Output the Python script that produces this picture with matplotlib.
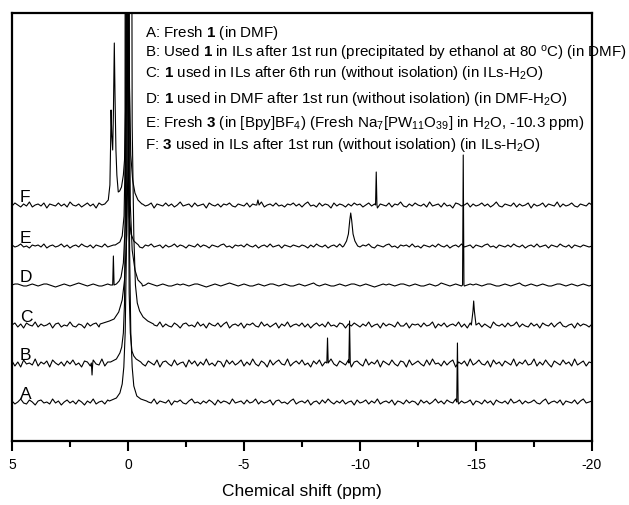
import numpy as np
import matplotlib
matplotlib.use("Agg")
import matplotlib.pyplot as plt
from matplotlib.ticker import MultipleLocator

plt.rcParams['font.family'] = ['Liberation Sans', 'DejaVu Sans']
plt.rcParams['mathtext.fontset'] = 'custom'
plt.rcParams['mathtext.rm'] = 'Liberation Sans'
plt.rcParams['mathtext.bf'] = 'Liberation Sans:bold'
plt.rcParams['mathtext.it'] = 'Liberation Sans:italic'
plt.rcParams['axes.unicode_minus'] = False

# ---------------- data (y in pixel-like units above each trace baseline) ----------------
labels = ["A", "B", "C", "D", "E", "F"]
offsets = [0, 39, 77, 117, 156, 197]

legend_lines = [
    r"A: Fresh $\mathbf{1}$ (in DMF)",
    r"B: Used $\mathbf{1}$ in ILs after 1st run (precipitated by ethanol at 80 $^{\mathrm{o}}$C) (in DMF)",
    r"C: $\mathbf{1}$ used in ILs after 6th run (without isolation) (in ILs-H$_{2}$O)",
    r"D: $\mathbf{1}$ used in DMF after 1st run (without isolation) (in DMF-H$_{2}$O)",
    r"E: Fresh $\mathbf{3}$ (in [Bpy]BF$_{4}$) (Fresh Na$_{7}$[PW$_{11}$O$_{39}$] in H$_{2}$O, -10.3 ppm)",
    r"F: $\mathbf{3}$ used in ILs after 1st run (without isolation) (in ILs-H$_{2}$O)",
]

# baseline wiggle estimates along 5 ... -20 ppm
A_noise = [1,-2,0,3,-1,-2,2,0,-3,1,2,-1,0,-2,3,-1,1,-3,0,2,
           -1,1,-2,2,0,-3,1,-1,3,-2,0,1,-2,2,-1,0,3,-2,1,-1,
           0,-2,2,-1,1,-3,2,0,-1,3,-2,1,0,-1,2,-3,1,0,2,-1,
           -2,1,3,-1,0,-2,1,-1,2,0,-3,2,-1,1,0,-2,3,-1,0,1,
           -2,2,-1,0,3,-2,1,-1,0,2,-3,1,2,-1,0,-2,1,3,-2,0,
           1,-1,2,-3,0,1,-2,2,-1,3,0,-2,1,-1,2,-2,0,1,-3,2,
           -1,0,2,-2,1,-1,3,-2,0,1,-1,2,-3,1,0,-2,2,-1,1,0,
           -3,2,-1,1,-2,0,3,-1,1,-2,2,0,-1,3,-2,1,-1,0,2,-3,
           1,0,-2,2,-1,1,-3,2,0,-1,1,-2,3,-1,0,2,-2,1,-1,0,
           2,-1,-2,1,3,-2,0,1,-1,2,-3,1,0,-1,2,-2,1,3,-1,0,
           1]
B_noise = [2,-3,1,-4,3,-1,0,-2,4,-3,1,-1,2,-4,3,0,-2,1,-3,2,
           -1,3,-2,0,-4,2,1,-3,3,-1,-2,4,-3,1,0,-2,3,-4,2,-1,
           1,-3,2,-2,4,-1,-3,2,0,-2,3,-4,1,2,-1,-3,3,-2,0,1,
           -4,3,-1,2,-3,1,-2,4,-2,0,-3,2,1,-4,3,-1,2,-2,0,3,
           -3,1,-2,4,-1,-3,2,0,-4,3,-2,1,3,-1,-2,4,-3,0,2,-1,
           3,-2,0,-4,2,-1,3,-3,1,-2,4,-1,-3,2,0,-2,3,-4,1,2,
           -1,-3,4,-2,1,-1,3,-4,2,0,-2,3,-1,-3,2,1,-4,3,-2,0,
           2,-1,-3,3,-2,4,-1,0,-3,2,-2,1,3,-4,1,-1,2,-3,4,-2,
           0,3,-1,-2,2,-4,3,-1,1,-3,2,0,-2,4,-3,1,-1,3,-2,-1,
           4,-3,1,-2,3,-1,-4,2,0,-2,3,-1,1,-3,4,-2,0,2,-3,1,
           0]
C_noise = [0,2,-2,1,-3,2,0,-1,3,-2,1,-1,0,2,-3,1,2,-2,0,-1,
           3,-1,-2,1,0,-3,2,-1,1,2,-2,0,-3,3,-1,1,-2,0,2,-1,
           -2,3,-1,0,1,-3,2,-2,1,0,-1,3,-2,1,-1,-2,2,0,-3,1,
           2,-1,0,-2,3,-1,1,-3,2,0,-1,2,-2,1,3,-3,0,1,-1,2,
           -3,1,0,2,-1,-2,3,-1,1,-2,0,2,-3,1,-1,3,-2,0,1,-1,
           2,-2,1,-3,0,2,-1,1,-2,3,-1,0,-2,2,1,-3,1,-1,2,0,
           -2,1,-1,3,-2,0,1,-3,2,-1,1,0,-2,3,-1,-1,2,-3,1,0,
           1,-2,2,-1,0,3,-3,1,-1,2,-2,0,1,-1,3,-2,1,-3,2,-1,
           0,2,-2,1,-1,-3,3,0,-1,1,-2,2,-1,0,3,-2,1,-1,-2,2,
           -1,1,-3,2,0,-1,2,-2,1,3,-1,-2,0,1,-3,2,-1,1,0,-2,
           1]
D_noise = [0,1,1,0,-1,-1,0,1,0,-1,0,1,1,0,-1,-2,-1,0,1,0,
           -1,0,1,2,1,0,-1,0,1,0,-1,-1,0,1,0,-1,0,1,1,0,
           -1,-1,0,1,0,-1,0,2,1,0,-1,0,1,0,-1,-1,0,1,0,1,
           0,-1,0,1,1,0,-1,-2,-1,0,1,0,-1,0,1,2,1,0,-1,0,
           1,0,-1,-1,0,1,0,-1,0,1,1,0,-1,0,1,0,-1,-1,0,1,
           0,-1,0,1,2,0,-1,0,1,0,-1,-1,0,1,0,-1,0,1,1,0,
           -1,0,1,0,-1,-2,-1,0,1,0,1,0,-1,0,1,1,0,-1,0,1,
           0,-1,-1,0,1,0,-1,0,2,1,0,-1,0,1,0,-1,-1,0,1,0,
           1,0,-1,0,1,1,0,-1,-1,0,1,0,-1,0,1,2,0,-1,0,1,
           0,-1,0,1,0,-1,-1,0,1,1,0,-1,0,1,0,-1,0,1,0,-1,
           0]
E_noise = [1,-1,0,2,-1,0,-2,1,0,1,-1,2,-2,0,1,-1,0,2,-1,1,
           -2,0,1,-1,2,0,-1,1,-2,1,0,-1,2,-1,0,1,-2,1,0,-1,
           2,-1,0,1,-1,-2,1,0,2,-1,0,1,-2,1,-1,0,2,-1,1,0,
           -2,1,0,-1,2,-1,1,0,-2,1,0,-1,1,2,-1,0,-2,1,0,1,
           -1,2,0,-1,1,-2,0,1,-1,2,-1,0,1,-2,1,0,-1,1,0,-1,
           1,0,-2,1,-1,2,0,-1,1,-2,0,1,-1,2,-1,0,1,-2,1,0,
           -1,1,0,2,-1,-2,1,0,-1,1,2,-1,0,-2,1,0,1,-1,2,-1,
           0,-2,1,0,-1,1,-1,2,0,-1,1,-2,0,1,-1,2,-1,0,1,-2,
           1,0,-1,1,2,-1,0,-2,1,0,-1,1,-1,2,0,-1,1,-2,0,1,
           -1,2,-1,0,1,-2,1,0,-1,2,0,-1,1,-2,1,0,-1,1,0,-1,
           0]
F_noise = [-1,2,0,-2,1,-1,3,-2,0,1,-1,2,-3,1,0,-1,2,-1,1,-2,
           3,0,-1,1,-2,0,2,-1,1,-3,2,0,-1,1,-2,2,0,-1,3,-2,
           1,0,-1,2,-2,1,-1,0,2,-3,1,0,-1,2,-1,1,-2,0,3,-1,
           0,1,-2,2,-1,0,1,-3,2,0,-1,1,-2,1,0,2,-1,-2,1,0,
           -1,2,-2,1,0,-1,3,-2,0,1,-1,2,-1,0,-2,1,0,2,-1,1,
           -2,1,3,-1,0,-2,2,-1,1,0,-3,2,-1,1,0,-2,1,-1,2,0,
           1,-2,0,2,-1,1,-3,1,0,-1,2,-2,1,0,3,-1,-2,1,-1,2,
           0,-1,1,-2,3,-1,0,1,-2,2,-1,0,-3,2,1,-1,0,2,-2,1,
           -1,0,2,-1,1,-2,0,3,-1,-2,1,0,-1,2,-2,1,-1,0,2,-3,
           1,-1,0,2,-2,1,0,-1,3,-2,1,-1,0,2,-1,-2,1,0,-1,2,
           0]

# resolved signals: (ppm positions, heights)
A_peaks = [
    ([0.8, 0.5, 0.35, 0.25, 0.18, 0.12, 0.07, 0.03, 0.0, -0.03, -0.07, -0.12, -0.18, -0.25, -0.38, -0.55, -0.8],
     [1, 4, 9, 18, 35, 70, 150, 400, 900, 400, 150, 70, 35, 16, 6, 3, 1]),
    ([-14.17, -14.2, -14.23], [0, 59, 0]),
]
B_peaks = [
    ([1.58, 1.55, 1.52], [0, -12, 0]),
    ([0.75, 0.5, 0.35, 0.27, 0.2, 0.15, 0.1, 0.07, 0.03, -0.01, -0.05, -0.1, -0.17, -0.25, -0.35, -0.55],
     [1, 4, 10, 16, 30, 60, 200, 900, 900, 250, 70, 30, 12, 7, 4, 1]),
    ([-8.57, -8.6, -8.63], [0, 25, 0]),
    ([-9.52, -9.55, -9.58], [0, 42, 0]),
]
C_peaks = [
    ([1.2, 0.8, 0.6, 0.4, 0.25, 0.15, 0.05, -0.02, -0.08, -0.12, -0.18, -0.25, -0.32, -0.4, -0.5, -0.65, -0.85, -1.1],
     [1, 4, 6, 13, 25, 45, 90, 200, 900, 900, 200, 90, 40, 22, 14, 8, 4, 1]),
    ([-14.8, -14.87, -14.9, -14.93, -15.0], [0, 14, 24, 14, 0]),
]
D_peaks = [
    ([0.66, 0.63, 0.6], [0, 29, 0]),
    ([0.5, 0.38, 0.3, 0.2, 0.12, 0.06, 0.01, -0.05, -0.1, -0.18, -0.3, -0.43, -0.6],
     [1, 4, 8, 22, 60, 200, 900, 250, 80, 35, 15, 5, 1]),
    ([-14.42, -14.45, -14.48], [0, 130, 0]),
]
E_peaks = [
    ([0.55, 0.35, 0.25, 0.17, 0.13, 0.1, 0.05, 0.0, -0.05, -0.13, -0.25, -0.45],
     [1, 4, 10, 30, 80, 900, 300, 80, 30, 12, 5, 1]),
    ([-9.3, -9.42, -9.5, -9.56, -9.6, -9.64, -9.7, -9.78, -9.9], [0, 5, 12, 26, 33, 26, 12, 5, 0]),
]
F_peaks = [
    ([1.0, 0.85, 0.78, 0.75, 0.73, 0.7, 0.66, 0.63, 0.6, 0.59, 0.56, 0.52, 0.48, 0.42, 0.36, 0.28, 0.2, 0.15,
      0.1, 0.06, 0.02, -0.02, -0.06, -0.12, -0.2, -0.3, -0.43, -0.6],
     [1, 5, 20, 60, 95, 70, 55, 90, 150, 162, 110, 55, 30, 13, 14, 18, 30, 45, 100, 300, 900, 300, 120, 50,
      25, 12, 5, 1]),
    ([-5.55, -5.6, -5.65], [0, 5, 0]),
    ([-10.67, -10.7, -10.73], [0, 33, 0]),
]

noises = [A_noise, B_noise, C_noise, D_noise, E_noise, F_noise]
peaks = [A_peaks, B_peaks, C_peaks, D_peaks, E_peaks, F_peaks]


def build_trace(noise, peak_groups):
    grid = np.linspace(5, -20, len(noise))
    xs, ys = [], []
    for gx, gy in zip(grid, noise):
        inside = any(min(px) <= gx <= max(px) for px, _ in peak_groups)
        if not inside:
            xs.append(gx)
            ys.append(gy)
    for px, py in peak_groups:
        xs.extend(px)
        ys.extend(py)
    order = np.argsort(xs)[::-1]
    return np.asarray(xs)[order], np.asarray(ys, dtype=float)[order]


# ---------------- figure ----------------
fig = plt.figure(figsize=(6.29, 5.05), dpi=100)
ax = fig.add_axes([12 / 629, 64 / 505, 580 / 629, 428 / 505])

for lab, off, nz, pk in zip(labels, offsets, noises, peaks):
    x, y = build_trace(nz, pk)
    ax.plot(x, y + off, color="black", lw=0.8)
    ax.text(4.65, off + 3, lab, fontsize=12.5, ha="left", va="baseline")

ax.set_xlim(5, -20)
ax.set_ylim(-39, 389)
ax.set_yticks([])
ax.xaxis.set_major_locator(MultipleLocator(5))
ax.xaxis.set_minor_locator(MultipleLocator(2.5))
ax.tick_params(axis="x", which="major", direction="out", length=7, width=1.5, labelsize=10, pad=5)
ax.tick_params(axis="x", which="minor", direction="out", length=4, width=1.5)
for s in ax.spines.values():
    s.set_linewidth(1.6)
ax.set_xlabel("Chemical shift (ppm)", fontsize=12.5, labelpad=9)

legend_baselines = [37, 58, 77, 103, 127, 149]
for txt, yb in zip(legend_lines, legend_baselines):
    fig.text(145 / 629, 1 - yb / 505, txt, fontsize=10.9, ha="left", va="baseline")

fig.savefig("out.png", dpi=100)
